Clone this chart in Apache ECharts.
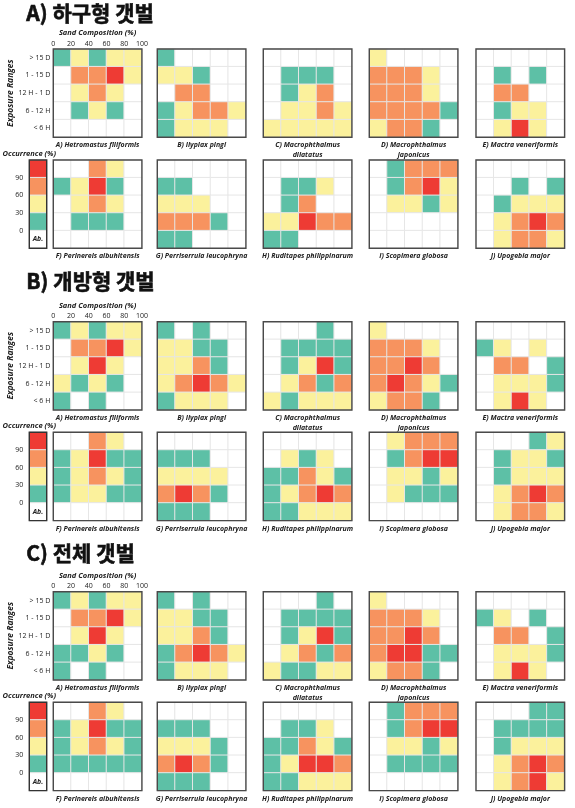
<!DOCTYPE html>
<html><head><meta charset="utf-8">
<script src="https://cdn.jsdelivr.net/npm/echarts@6/dist/echarts.min.js"></script>
<style>html,body{margin:0;padding:0;background:#fff}#c{width:575px;height:808px}</style>
</head><body><div id="c"></div>
<script>
// ---------------- DATA ----------------
const panelTitles = ['A) 하구형 갯벌', 'B) 개방형 갯벌', 'C) 전체 갯벌'];
const exposureLabels = ['> 15 D', '1 - 15 D', '12 H - 1 D', '6 - 12 H', '< 6 H'];
const sandBins = ['0-20', '20-40', '40-60', '60-80', '80-100'];
const sandTicks = [0, 20, 40, 60, 80, 100];
const speciesNames = [
  'A) Hetromastus filiformis', 'B) Ilyplax pingi', 'C) Macrophthalmus\ndilatatus',
  'D) Macrophthalmus\njaponicus', 'E) Mactra veneriformis',
  'F) Perinereis aibuhitensis', 'G) Perriserrula leucophryna', 'H) Ruditapes philippinarum',
  'I) Scopimera globosa', 'J) Upogebia major'
];
// occurrence class: 0 = absent (Ab.), 1 = 0-30 %, 2 = 30-60 %, 3 = 60-90 %, 4 = > 90 %
const occurrenceLevels = [4, 3, 2, 1, 0];
const occurrenceTicks = ['0', '30', '60', '90'];
// rows: exposure (> 15 D ... < 6 H), columns: sand 0-20 ... 80-100
const estuarineGrids = [
  ['12122', '03342', '02320', '01210', '00000'],
  ['10000', '22100', '03300', '12332', '12220'],
  ['00000', '01110', '01230', '02232', '22222'],
  ['20000', '33320', '33320', '33331', '23310'],
  ['00000', '01010', '03300', '01220', '02420'],
  ['00320', '12410', '02320', '01110', '00000'],
  ['00000', '11000', '22200', '33310', '11000'],
  ['00000', '01120', '01300', '22433', '11000'],
  ['01333', '01342', '02212', '00000', '00000'],
  ['00000', '00101', '01222', '02343', '02332']
];
const openGrids = [
  ['12122', '03342', '02420', '21210', '10100'],
  ['10100', '22110', '22310', '23432', '12220'],
  ['00010', '01111', '01241', '02313', '21222'],
  ['20000', '33320', '33430', '34321', '23310'],
  ['00000', '12020', '03301', '02221', '02420'],
  ['00320', '12411', '12321', '12211', '00000'],
  ['00000', '11100', '22220', '34310', '11100'],
  ['00000', '02120', '11321', '12343', '11222'],
  ['02333', '01344', '02212', '02111', '00000'],
  ['00012', '01221', '01222', '02343', '02332']
];
const allGrids = [
  ['12122', '03342', '02420', '11210', '10100'],
  ['10100', '22110', '22310', '13432', '12220'],
  ['00010', '01111', '01241', '02313', '21122'],
  ['20000', '33320', '33430', '34411', '23310'],
  ['00000', '12010', '03301', '02221', '02420'],
  ['00320', '12411', '12321', '11111', '00000'],
  ['00000', '11100', '22210', '34310', '11100'],
  ['00000', '01120', '11321', '12443', '11222'],
  ['01333', '01344', '02212', '01111', '00000'],
  ['00011', '01111', '01222', '02343', '02342']
];

// ---------------- LAYOUT / STYLE ----------------
const levelColors = ['#ffffff', '#5dc0a6', '#fbf19c', '#f7935f', '#ee3b34'];
const FONT = '"Open Sans", "Noto Sans", sans-serif';
const LEFTS = [53.3, 157.3, 263.3, 369.3, 476];
const W = 88.6, H = 88.3;
const PANELS = [{ ty: 15, t1: 49, t2: 160 }, { ty: 283, t1: 321.7, t2: 432.3 }, { ty: 555, t1: 591.7, t2: 702.3 }];
const gridSets = [estuarineGrids, openGrids, allGrids];
const lab = { fontFamily: FONT, fontStyle: 'italic', fontWeight: 'bold', color: '#222' };

const grid = [], xAxis = [], yAxis = [], series = [], graphic = [];

gridSets.forEach((grids, p) => {
  const P = PANELS[p];
  graphic.push({ type: 'text', left: 26, top: P.ty - 13,
    style: { text: panelTitles[p], font: 'bold 21px "Noto Sans CJK KR", sans-serif', fill: '#111',
      stroke: '#111', lineWidth: 0.6 } });

  grids.forEach((rows, s) => {
    const gi = grid.length;
    grid.push({ left: LEFTS[s % 5], top: s < 5 ? P.t1 : P.t2, width: W, height: H,
      show: true, borderColor: '#4a4a4a', borderWidth: 1.4, backgroundColor: 'transparent', z: 5,
      outerBoundsMode: 'none', containLabel: false });
    const xi = xAxis.length;
    xAxis.push({ type: 'category', gridIndex: gi, data: sandBins, position: 'bottom',
      axisLine: { show: false }, axisTick: { show: false }, axisLabel: { show: false }, splitLine: { show: false },
      name: speciesNames[s], nameLocation: 'middle', nameGap: 3,
      nameTextStyle: Object.assign({}, lab, { fontSize: 7, lineHeight: 10, verticalAlign: 'top' }) });
    if (s === 0) {
      xAxis.push({ type: 'value', gridIndex: gi, position: 'top', min: sandTicks[0], max: sandTicks[sandTicks.length - 1],
        interval: sandTicks[1] - sandTicks[0],
        axisLine: { show: false }, axisTick: { show: false }, splitLine: { show: false },
        axisLabel: { margin: 2, fontSize: 7, fontFamily: FONT, color: '#222' },
        name: 'Sand Composition (%)', nameLocation: 'middle', nameGap: 12,
        nameTextStyle: Object.assign({}, lab, { fontSize: 7.5 }) });
    }
    const yi = yAxis.length;
    yAxis.push({ type: 'category', gridIndex: gi, data: exposureLabels, inverse: true, position: 'left',
      axisLine: { show: false }, axisTick: { show: false }, splitLine: { show: false },
      axisLabel: { show: s === 0, margin: 3, fontSize: 7, fontFamily: FONT, color: '#222' },
      name: s === 0 ? 'Exposure Ranges' : '', nameLocation: 'middle', nameGap: 37,
      nameTextStyle: Object.assign({}, lab, { fontSize: 8.5 }) });
    const data = [];
    rows.forEach((r, ri) => r.split('').forEach((ch, ci) => data.push([ci, ri, +ch])));
    series.push({ type: 'heatmap', xAxisIndex: xi, yAxisIndex: yi, data,
      itemStyle: { borderColor: '#e6e6e6', borderWidth: 1 }, emphasis: { disabled: true }, silent: true });
  });

  // colour key
  const gi = grid.length;
  grid.push({ left: 29.3, top: P.t2, width: 17.4, height: H, show: true, borderColor: '#333', borderWidth: 1.4,
    backgroundColor: 'transparent', z: 5, outerBoundsMode: 'none', containLabel: false });
  const xi = xAxis.length;
  xAxis.push({ type: 'category', gridIndex: gi, data: ['k'], show: false });
  const yi = yAxis.length;
  yAxis.push({ type: 'category', gridIndex: gi, data: occurrenceLevels.map(String), inverse: true, show: false });
  yAxis.push({ type: 'value', gridIndex: gi, position: 'left', min: 0, max: occurrenceLevels.length, interval: 1,
    axisLine: { show: false }, axisTick: { show: false }, splitLine: { show: false },
    axisLabel: { margin: 6, fontSize: 7, fontFamily: FONT, color: '#222',
      formatter: v => occurrenceTicks[v - 1] || '' },
    name: 'Occurrence (%)', nameLocation: 'end', nameGap: 2,
    nameTextStyle: Object.assign({}, lab, { fontSize: 7.5, verticalAlign: 'bottom' }) });
  series.push({ type: 'heatmap', xAxisIndex: xi, yAxisIndex: yi,
    data: occurrenceLevels.map((lv, i) => [0, i, lv]),
    itemStyle: { borderColor: '#e6e6e6', borderWidth: 1 }, emphasis: { disabled: true }, silent: true,
    label: { show: true, formatter: q => q.value[2] === 0 ? 'Ab.' : '', fontSize: 7,
      fontFamily: FONT, fontStyle: 'italic', fontWeight: 'bold', color: '#222' } });
});

const option = {
  animation: false,
  backgroundColor: '#fff',
  textStyle: { fontFamily: FONT },
  grid, xAxis, yAxis, series, graphic,
  visualMap: {
    type: 'piecewise', show: false, dimension: 2, seriesIndex: series.map((_, i) => i),
    pieces: levelColors.map((c, v) => ({ value: v, color: c }))
  }
};
const chart = echarts.init(document.getElementById('c'), null, { renderer: 'canvas' });
chart.setOption(option);
</script></body></html>
